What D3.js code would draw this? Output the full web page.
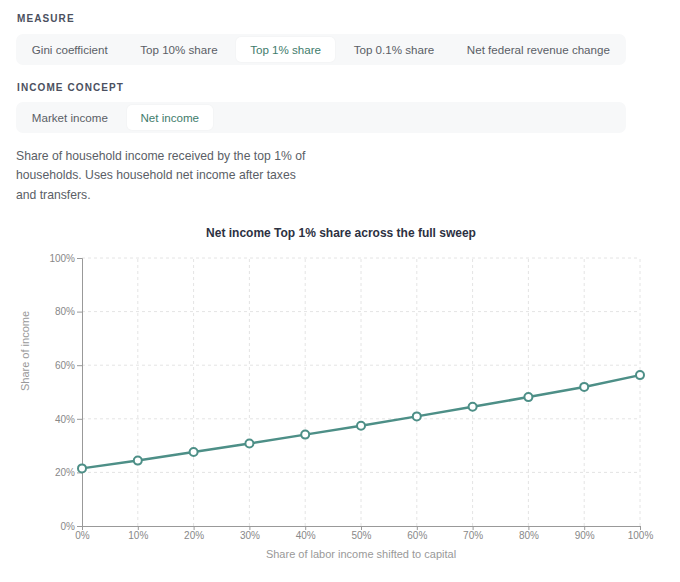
<!DOCTYPE html>
<html>
<head>
<meta charset="utf-8">
<script src="https://cdn.jsdelivr.net/npm/d3@7"></script>
<style>
  body { margin: 0; background: #fff; font-family: "Liberation Sans", Arial, Helvetica, sans-serif; }
  #page { position: relative; width: 680px; height: 582px; }
  .label { position: absolute; left: 17px; font-size: 10px; font-weight: bold; letter-spacing: 1.1px; color: #4b5060; line-height: 12px; }
  .seg { position: absolute; left: 16px; width: 610px; height: 31px; box-sizing: border-box; padding: 3px 2px; background: #f7f8f9; border-radius: 7px; display: flex; gap: 5px; }
  .btn { height: 25px; line-height: 25px; padding: 0 13.8px; font-size: 11.6px; color: #5a5e66; border-radius: 5px; white-space: nowrap; }
  .btn.on { background: #fff; color: #3f7c6c; box-shadow: 0 0 2px rgba(0,0,0,0.05); }
  #desc { position: absolute; left: 16px; top: 147px; width: 296px; font-size: 12.2px; line-height: 19.3px; color: #5a5e66; }
  svg { position: absolute; left: 0; top: 210px; }
</style>
</head>
<body>
<div id="page"></div>
<script>
// control options
var measures = ["Gini coefficient", "Top 10% share", "Top 1% share", "Top 0.1% share", "Net federal revenue change"];
var concepts = ["Market income", "Net income"];
var activeMeasure = "Top 1% share";
var activeConcept = "Net income";

// sweep: share of labor income shifted to capital vs top 1% share (net income)
var shifted = [0, 10, 20, 30, 40, 50, 60, 70, 80, 90, 100];
var topShare = [21.5, 24.4, 27.6, 30.8, 34.1, 37.4, 40.9, 44.5, 48.1, 51.9, 56.3];
var yTicks = [0, 20, 40, 60, 80, 100];

var page = d3.select("#page");

// segmented controls
var addGroup = function(title, labelTop, segTop, items, active)
{
	page.append("div").attr("class", "label").style("top", labelTop + "px").text(title);
	page.append("div").attr("class", "seg").style("top", segTop + "px")
		.selectAll("div")
		.data(items)
		.enter().append("div")
		.attr("class", function (d) { return d == active ? "btn on" : "btn"; })
		.text(function (d) { return d; });
}
addGroup("MEASURE", 13, 34, measures, activeMeasure);
addGroup("INCOME CONCEPT", 82, 102, concepts, activeConcept);

page.append("div").attr("id", "desc")
	.text("Share of household income received by the top 1% of households. Uses household net income after taxes and transfers.");

// chart
var width = 680, height = 372;
var margin = {top: 48, right: 40, bottom: 56, left: 82};

var svg = page.append("svg").attr("width", width).attr("height", height);

var x = d3.scaleLinear().domain([0, 100]).range([margin.left, width - margin.right]);
var y = d3.scaleLinear().domain([0, 100]).range([height - margin.bottom, margin.top]);

svg.append("text")
	.attr("x", 341).attr("y", 22.5)
	.attr("dy", "0.35em")
	.attr("text-anchor", "middle")
	.style("font-size", "12px").style("font-weight", "bold")
	.style("fill", "#2d3142")
	.text("Net income Top 1% share across the full sweep");

// grid
var grid = svg.append("g").attr("stroke", "#e4e4e4").attr("stroke-dasharray", "3,3");
grid.selectAll("line.v")
	.data(shifted.slice(1))
	.enter().append("line")
	.attr("x1", function (d) { return x(d); }).attr("x2", function (d) { return x(d); })
	.attr("y1", y(0)).attr("y2", y(100));
grid.selectAll("line.h")
	.data(yTicks.slice(1))
	.enter().append("line")
	.attr("x1", x(0)).attr("x2", x(100))
	.attr("y1", function (d) { return y(d); }).attr("y2", function (d) { return y(d); });

var fmt = function (d) { return d + "%"; };

var xAxis = svg.append("g")
	.attr("transform", "translate(0," + y(0) + ")")
	.call(d3.axisBottom(x).tickValues(shifted).tickFormat(fmt).tickSize(4).tickPadding(2));
var yAxis = svg.append("g")
	.attr("transform", "translate(" + x(0) + ",0)")
	.call(d3.axisLeft(y).tickValues(yTicks).tickFormat(fmt).tickSize(5).tickPadding(2));

[xAxis, yAxis].forEach(function (a)
{
	a.select(".domain").attr("stroke", "#999");
	a.selectAll(".tick line").attr("stroke", "#999");
	a.selectAll(".tick text")
		.style("font-family", "'Liberation Sans', Arial, sans-serif")
		.style("font-size", "10px")
		.attr("fill", "#888");
});

svg.append("text")
	.attr("x", (x(0) + x(100)) / 2).attr("y", 344)
	.attr("dy", "0.35em")
	.attr("text-anchor", "middle")
	.style("font-size", "11px").style("fill", "#999")
	.text("Share of labor income shifted to capital");

svg.append("text")
	.attr("transform", "translate(25,141) rotate(-90)")
	.attr("dy", "0.35em")
	.attr("text-anchor", "middle")
	.style("font-size", "11px").style("fill", "#999")
	.text("Share of income");

// series
var pts = shifted.map(function (d, i) { return {x: d, y: topShare[i]}; });

svg.append("path")
	.datum(pts)
	.attr("fill", "none")
	.attr("stroke", "#4d8f87")
	.attr("stroke-width", 2.5)
	.attr("d", d3.line().x(function (d) { return x(d.x); }).y(function (d) { return y(d.y); }));

svg.append("g")
	.selectAll("circle")
	.data(pts)
	.enter().append("circle")
	.attr("cx", function (d) { return x(d.x); })
	.attr("cy", function (d) { return y(d.y); })
	.attr("r", 4)
	.attr("fill", "#fff")
	.attr("stroke", "#4d8f87")
	.attr("stroke-width", 2);
</script>
</body>
</html>
